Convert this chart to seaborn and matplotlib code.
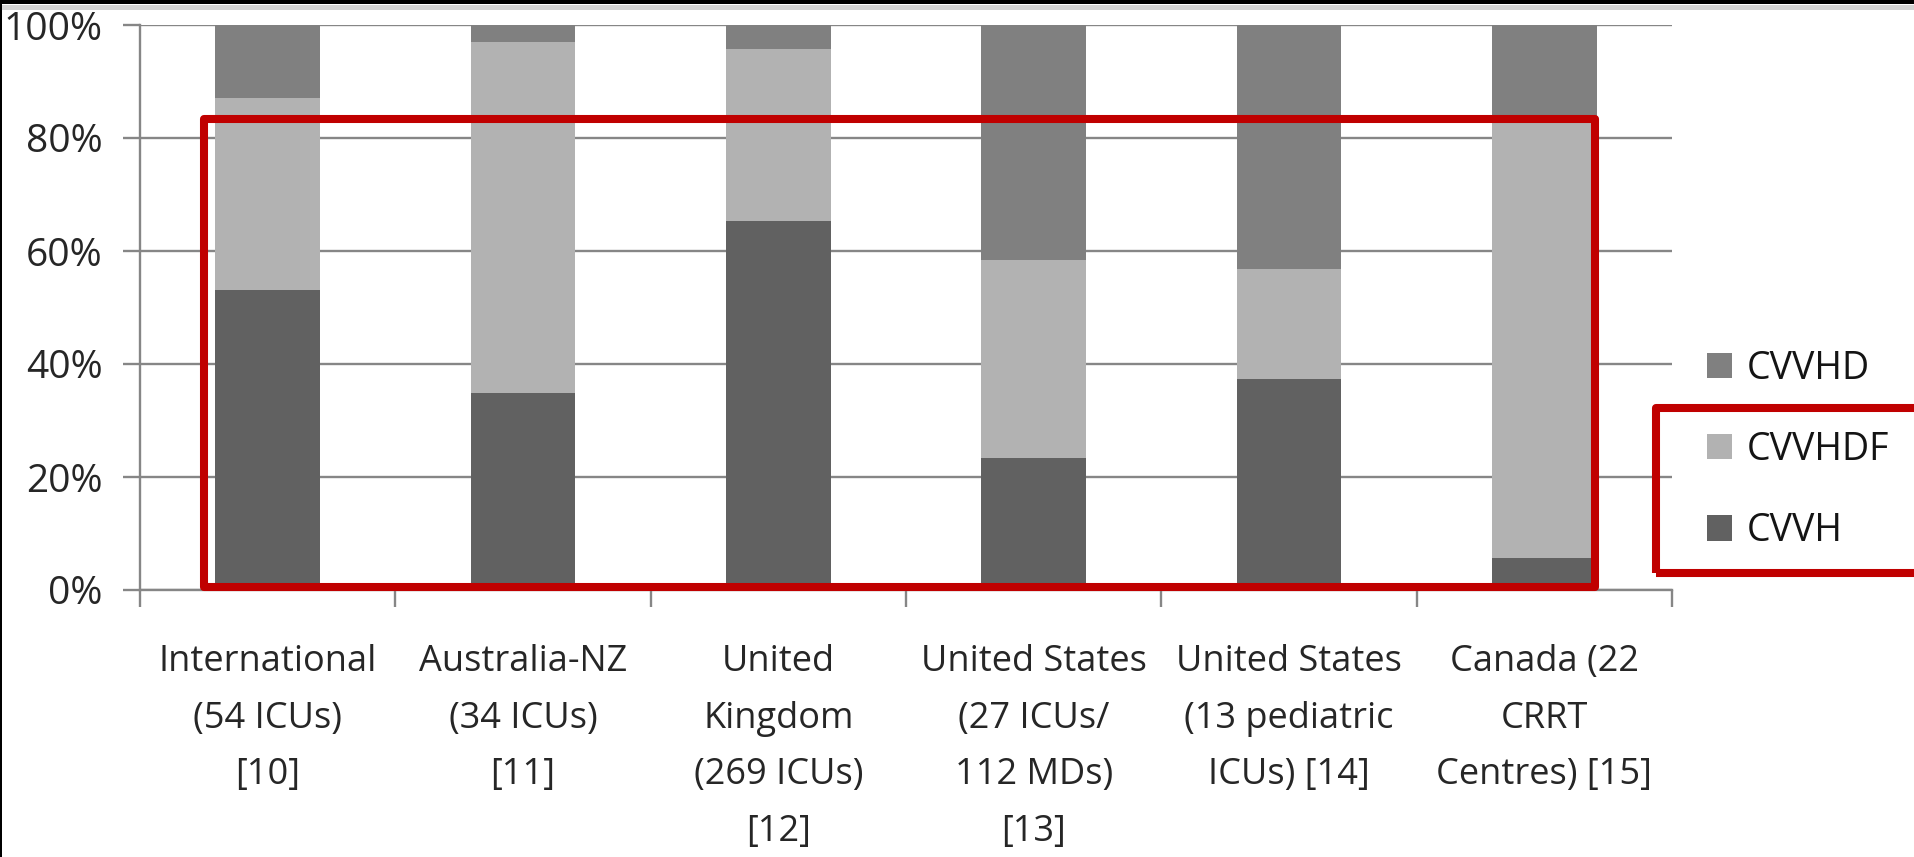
import matplotlib
matplotlib.use("Agg")
import matplotlib.pyplot as plt
from matplotlib.patches import Rectangle
from matplotlib.ticker import FixedLocator, FuncFormatter
import numpy as np
import pandas as pd
import seaborn as sns

# Survey results: share of ICUs using each CRRT modality (percent)
categories = [
    "International\n(54 ICUs)\n[10]",
    "Australia-NZ\n(34 ICUs)\n[11]",
    "United\nKingdom\n(269 ICUs)\n[12]",
    "United States\n(27 ICUs/\n112 MDs)\n[13]",
    "United States\n(13 pediatric\nICUs) [14]",
    "Canada (22\nCRRT\nCentres) [15]",
]
cvvh = [53.1, 34.8, 65.3, 23.4, 37.3, 5.7]
cvvhdf = [34.0, 62.2, 30.4, 35.0, 19.5, 77.8]
cvvhd = [12.9, 3.0, 4.3, 41.6, 43.2, 16.5]
y_ticks = [0, 20, 40, 60, 80, 100]

colors = {"CVVHD": "#808080", "CVVHDF": "#b2b2b2", "CVVH": "#616161"}

sns.set_theme(style="white")
plt.rcParams["font.family"] = ["Open Sans", "DejaVu Sans"]
plt.rcParams["text.color"] = "#141414"

W, H = 1915, 857
fig = plt.figure(figsize=(W / 100, H / 100), dpi=100)
fig.patch.set_facecolor("white")

ax_l, ax_r, ax_t, ax_b = 140, 1672, 25, 590
ax = fig.add_axes([ax_l / W, 1 - ax_b / H, (ax_r - ax_l) / W, (ax_b - ax_t) / H])

df = pd.DataFrame({"label": categories, "CVVH": cvvh, "CVVHDF": cvvhdf, "CVVHD": cvvhd})
df["top_cvvhdf"] = df["CVVH"] + df["CVVHDF"]
df["top_cvvhd"] = df["top_cvvhdf"] + df["CVVHD"]

# Stacked bars: draw cumulative heights from the top segment down
layers = [("top_cvvhd", "CVVHD"), ("top_cvvhdf", "CVVHDF"), ("CVVH", "CVVH")]
for col, name in layers:
    sns.barplot(data=df, x="label", y=col, color=colors[name], saturation=1,
                width=0.41, linewidth=0, errorbar=None, label=name, ax=ax)
if ax.get_legend() is not None:
    ax.get_legend().remove()

ax.set_xlim(-0.5, len(categories) - 0.5)
ax.set_ylim(0, 100)
ax.set_xlabel("")
ax.set_ylabel("")

axis_gray = "#868686"
ax.set_axisbelow(True)
ax.yaxis.set_major_locator(FixedLocator(y_ticks))
ax.yaxis.set_major_formatter(FuncFormatter(lambda v, p: f"{v:.0f}%"))
ax.yaxis.grid(True, color=axis_gray, linewidth=1.7)
ax.xaxis.grid(False)

for side in ["top", "right"]:
    ax.spines[side].set_visible(False)
for side in ["left", "bottom"]:
    ax.spines[side].set_color(axis_gray)
    ax.spines[side].set_linewidth(1.7)

ax.tick_params(axis="y", which="major", length=12, width=1.7, color=axis_gray,
               direction="out", pad=15, labelsize=28, left=True)
# Category separators as minor ticks on the x axis
ax.xaxis.set_minor_locator(FixedLocator(np.arange(-0.5, len(categories), 1.0)))
ax.tick_params(axis="x", which="minor", length=12, width=1.7, color=axis_gray,
               direction="out", bottom=True)
ax.tick_params(axis="x", which="major", length=0, pad=39, labelsize=26)
for lbl in ax.get_xticklabels():
    lbl.set_linespacing(1.76)

# Legend
handles, labels = ax.get_legend_handles_labels()
fig.legend(handles, labels, loc="center left",
           bbox_to_anchor=(1707 / W, 1 - 450 / H), frameon=False, fontsize=27,
           handlelength=0.66, handleheight=0.66, handletextpad=0.4,
           labelspacing=1.15, borderpad=0, borderaxespad=0)

# Red highlight boxes
red = "#c00000"
def box(x0, y0, x1, y1):
    fig.add_artist(Rectangle((x0 / W, 1 - y1 / H), (x1 - x0) / W, (y1 - y0) / H,
                             transform=fig.transFigure, fill=False, edgecolor=red,
                             linewidth=5.8, joinstyle="round", zorder=10))
box(204, 119, 1595.5, 587)
box(1656, 407.5, 1935, 572.5)

# Window frame edges
fig.add_artist(Rectangle((0, 1 - 3.5 / H), 1, 3.5 / H, transform=fig.transFigure,
                         facecolor="black", edgecolor="none", zorder=11))
fig.add_artist(Rectangle((0, 1 - 9.5 / H), 1, 4 / H, transform=fig.transFigure,
                         facecolor="#d4d4d4", edgecolor="none", zorder=11))
fig.add_artist(Rectangle((0, 0), 2 / W, 1, transform=fig.transFigure,
                         facecolor="black", edgecolor="none", zorder=11))

fig.savefig("out.png", dpi=100, facecolor="white")
